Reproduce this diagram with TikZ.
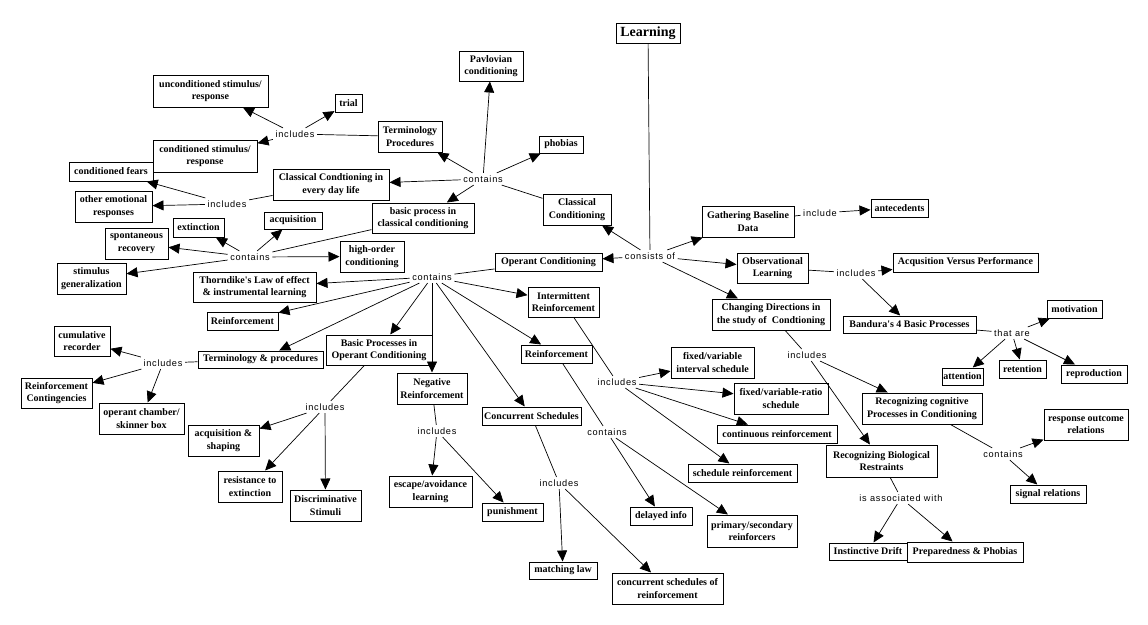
\documentclass[tikz,border=0pt]{standalone}
\usepackage{fontspec}
\setmainfont{Liberation Serif}
\newfontfamily\lblfont[LetterSpace=8]{Liberation Sans}
\usetikzlibrary{arrows.meta}
\begin{document}
\begin{tikzpicture}[x=1pt,y=-1pt,
  box/.style={draw, line width=1pt, font=\bfseries\fontsize{10}{12.5}\selectfont, align=center, inner sep=1pt},
  lbl/.style={font=\lblfont\fontsize{9.2}{10}\selectfont, inner sep=2.5pt},
  con/.style={line width=0.7pt},
  arr/.style={con, -{Triangle[length=11pt,width=10pt]}},
]
\useasboundingbox[fill=white] (0,0) rectangle (1148,624);

% ---------- boxes ----------
\node[box, font=\bfseries\fontsize{14}{16}\selectfont, minimum width=64, minimum height=20] (learn) at (648,33) {Learning};
\node[box, minimum width=64, minimum height=30] (pav) at (491,66) {Pavlovian\\conditioning};
\node[box, minimum width=27, minimum height=18] (trial) at (348.5,103) {trial};
\node[box, minimum width=64, minimum height=31] (termp) at (410,136.5) {Terminology\\Procedures};
\node[box, minimum width=44, minimum height=17] (phob) at (561,144.5) {phobias};
\node[box, minimum width=115, minimum height=32] (uncond) at (210.5,91) {unconditioned stimulus/\\response};
\node[box, minimum width=104, minimum height=32] (cond) at (205,156) {conditioned stimulus/\\response};
\node[box, minimum width=84, minimum height=19] (fears) at (111,171.5) {conditioned fears};
\node[box, minimum width=77, minimum height=31] (emot) at (113.5,206.5) {other emotional\\responses};
\node[box, minimum width=116, minimum height=31] (ccedl) at (331,184.5) {Classical Condtioning in\\every day life};
\node[box, minimum width=102, minimum height=30] (bpcc) at (423,218) {basic process in\\classical conditioning};
\node[box, minimum width=68, minimum height=31] (cc) at (577,209.5) {Classical\\Conditioning};
\node[box, minimum width=51, minimum height=19] (ext) at (198.5,227.5) {extinction};
\node[box, minimum width=58, minimum height=17] (acq) at (293,220.5) {acquisition};
\node[box, minimum width=63, minimum height=31] (spont) at (136.5,243.5) {spontaneous\\recovery};
\node[box, minimum width=69, minimum height=31] (stim) at (91.5,278.5) {stimulus\\generalization};
\node[box, minimum width=64, minimum height=31] (high) at (372,256.5) {high-order\\conditioning};
\node[box, minimum width=123, minimum height=30] (thorn) at (254.5,287) {Thorndike\textquotesingle s Law of effect\\\& instrumental learning};
\node[box, minimum width=71, minimum height=18] (reinfL) at (242.5,321) {Reinforcement};
\node[box, minimum width=107, minimum height=18] (oc) at (548.5,262) {Operant Conditioning};
\node[box, minimum width=71, minimum height=30] (inter) at (563.5,302) {Intermittent\\Reinforcement};
\node[box, minimum width=56, minimum height=30] (cumul) at (82,341) {cumulative\\recorder};
\node[box, minimum width=125, minimum height=17] (termproc) at (260.5,359.5) {Terminology \& procedures};
\node[box, minimum width=71, minimum height=30] (rcont) at (56.5,393) {Reinforcement\\Contingencies};
\node[box, minimum width=85, minimum height=31] (opch) at (141.5,418.5) {operant chamber/\\skinner box};
\node[box, minimum width=106, minimum height=30] (bpoc) at (379,350) {Basic Processes in\\Operant Conditioning};
\node[box, minimum width=71, minimum height=18] (reinfC) at (556.5,354) {Reinforcement};
\node[box, minimum width=70, minimum height=31] (neg) at (432,388.5) {Negative\\Reinforcement};
\node[box, minimum width=99, minimum height=18] (concs) at (531.5,416) {Concurrent Schedules};
\node[box, minimum width=71, minimum height=31] (acqsh) at (223.5,440.5) {acquisition \&\\shaping};
\node[box, minimum width=64, minimum height=31] (resist) at (250,486.5) {resistance to\\extinction};
\node[box, minimum width=71, minimum height=31] (discr) at (325.5,505.5) {Discriminative\\Stimuli};
\node[box, minimum width=83, minimum height=31] (escape) at (430.5,491.5) {escape/avoidance\\learning};
\node[box, minimum width=61, minimum height=18] (punish) at (512.5,512) {punishment};
\node[box, minimum width=68, minimum height=17] (match) at (563,570.5) {matching law};
\node[box, minimum width=111, minimum height=31] (csr) at (667.5,588.5) {concurrent schedules of\\reinforcement};
\node[box, minimum width=62, minimum height=18] (delay) at (661,516) {delayed info};
\node[box, minimum width=90, minimum height=32] (prim) at (752,531) {primary/secondary\\reinforcers};
\node[box, minimum width=109, minimum height=18] (sched) at (742.5,473) {schedule reinforcement};
\node[box, minimum width=120, minimum height=18] (contr) at (777,434) {continuous reinforcement};
\node[box, minimum width=83, minimum height=31] (fvi) at (712.5,362.5) {fixed/variable\\interval schedule};
\node[box, minimum width=94, minimum height=31] (fvr) at (781,398.5) {fixed/variable-ratio\\schedule};
\node[box, minimum width=92, minimum height=31] (gbd) at (748,221.5) {Gathering Baseline\\Data};
\node[box, minimum width=57, minimum height=18] (ante) at (899.5,208) {antecedents};
\node[box, minimum width=71, minimum height=30] (obs) at (772.5,268) {Observational\\Learning};
\node[box, minimum width=145, minimum height=19] (avp) at (965.5,262.5) {Acqusition Versus Performance};
\node[box, minimum width=118, minimum height=31] (chg) at (771,314.5) {Changing Directions in\\the study of\ \ Condtioning};
\node[box, minimum width=133, minimum height=17] (band) at (909.5,324.5) {Bandura\textquotesingle s 4 Basic Processes};
\node[box, minimum width=55, minimum height=18] (motiv) at (1074.5,309) {motivation};
\node[box, minimum width=41, minimum height=17] (attn) at (962.5,376.5) {attention};
\node[box, minimum width=47, minimum height=18] (ret) at (1022.5,369) {retention};
\node[box, minimum width=66, minimum height=18] (repro) at (1094,374) {reproduction};
\node[box, minimum width=120, minimum height=31] (rcog) at (922,408.5) {Recognizing cognitive\\Processes in Conditioning};
\node[box, minimum width=84, minimum height=31] (resp) at (1086,424.5) {response outcome\\relations};
\node[box, minimum width=76, minimum height=18] (sig) at (1048,494) {signal relations};
\node[box, minimum width=111, minimum height=32] (rbio) at (881.5,461) {Recognizing Biological\\Restraints};
\node[box, minimum width=78, minimum height=17] (inst) at (868,551.5) {Instinctive Drift};
\node[box, minimum width=116, minimum height=20] (prep) at (965,552) {Preparedness \& Phobias};

% ---------- link labels ----------
\node[lbl] (L1) at (650,256) {consists of};
\node[lbl] (L2) at (820,213) {include};
\node[lbl] (L3) at (483,179) {contains};
\node[lbl] (L4) at (295,134) {includes};
\node[lbl] (L5) at (227,204) {includes};
\node[lbl] (L6) at (250,257) {contains};
\node[lbl] (L7) at (432,277) {contains};
\node[lbl] (L8) at (163,363) {includes};
\node[lbl] (L9) at (325,407) {includes};
\node[lbl] (L10) at (437,431) {includes};
\node[lbl] (L11) at (559,483) {includes};
\node[lbl] (L12) at (617,382) {includes};
\node[lbl] (L13) at (607,432) {contains};
\node[lbl] (L14) at (856,273) {includes};
\node[lbl] (L15) at (1012,333) {that are};
\node[lbl] (L16) at (807,355) {includes};
\node[lbl] (L17) at (1003,454) {contains};
\node[lbl] (L18) at (901,498) {is associated with};

% ---------- connectors ----------
\draw[con] (learn) -- (L1);
\draw[arr] (L1) -- (cc);
\draw[arr] (L1) -- (gbd);
\draw[arr] (L1) -- (oc);
\draw[arr] (L1) -- (obs);
\draw[arr] (L1) -- (chg);

\draw[con] (gbd) -- (L2);
\draw[arr] (L2) -- (ante);

\draw[con] (cc) -- (L3);
\draw[arr] (L3) -- (pav);
\draw[arr] (L3) -- (termp);
\draw[arr] (L3) -- (phob);
\draw[arr] (L3) -- (ccedl);
\draw[arr] (L3) -- (bpcc);

\draw[con] (termp) -- (L4);
\draw[arr] (L4) -- (trial);
\draw[arr] (L4) -- (uncond);
\draw[arr] (L4) -- (cond);

\draw[con] (ccedl) -- (L5);
\draw[arr] (L5) -- (fears);
\draw[arr] (L5) -- (emot);

\draw[con] (bpcc) -- (L6);
\draw[arr] (L6) -- (acq);
\draw[arr] (L6) -- (ext);
\draw[arr] (L6) -- (spont);
\draw[arr] (L6) -- (stim);
\draw[arr] (L6) -- (high);

\draw[con] (oc) -- (L7);
\draw[arr] (L7) -- (thorn);
\draw[arr] (L7) -- (reinfL);
\draw[arr] (L7) -- (termproc);
\draw[arr] (L7) -- (bpoc);
\draw[arr] (L7) -- (neg);
\draw[arr] (L7) -- (concs);
\draw[arr] (L7) -- (reinfC);
\draw[arr] (L7) -- (inter);

\draw[con] (termproc) -- (L8);
\draw[arr] (L8) -- (cumul);
\draw[arr] (L8) -- (rcont);
\draw[arr] (L8) -- (opch);

\draw[con] (bpoc) -- (L9);
\draw[arr] (L9) -- (acqsh);
\draw[arr] (L9) -- (resist);
\draw[arr] (L9) -- (discr);

\draw[con] (neg) -- (L10);
\draw[arr] (L10) -- (escape);
\draw[arr] (L10) -- (punish);

\draw[con] (concs) -- (L11);
\draw[arr] (L11) -- (match);
\draw[arr] (L11) -- (csr);

\draw[con] (inter) -- (L12);
\draw[arr] (L12) -- (fvi);
\draw[arr] (L12) -- (fvr);
\draw[arr] (L12) -- (contr);
\draw[arr] (L12) -- (sched);

\draw[con] (reinfC) -- (L13);
\draw[arr] (L13) -- (delay);
\draw[arr] (L13) -- (prim);

\draw[con] (obs) -- (L14);
\draw[arr] (L14) -- (avp);
\draw[arr] (L14) -- (band);

\draw[con] (band) -- (L15);
\draw[arr] (L15) -- (motiv);
\draw[arr] (L15) -- (attn);
\draw[arr] (L15) -- (ret);
\draw[arr] (L15) -- (repro);

\draw[con] (chg) -- (L16);
\draw[arr] (L16) -- (rcog);
\draw[arr] (L16) -- (rbio);

\draw[con] (rcog) -- (L17);
\draw[arr] (L17) -- (resp);
\draw[arr] (L17) -- (sig);

\draw[con] (rbio) -- (L18);
\draw[arr] (L18) -- (inst);
\draw[arr] (L18) -- (prep);
\end{tikzpicture}
\end{document}
